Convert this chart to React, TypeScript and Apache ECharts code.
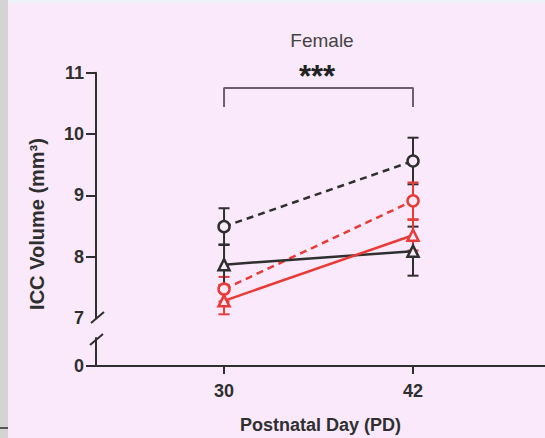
import React, { useEffect, useRef } from "react";
import * as echarts from "echarts";

// ---- data ----
const days = [30, 42];
const xTickLabels = [30, 42];
const yTicksUpper = [7, 8, 9, 10, 11];
const yTicksLower = [0];

const blackCircleMean = [8.49, 9.56];
const blackCircleErr = [0.3, 0.38];
const redCircleMean = [7.47, 8.91];
const redCircleErr = [0.2, 0.3];
const blackTriangleMean = [7.87, 8.09];
const blackTriangleErr = [0.33, 0.4];
const redTriangleMean = [7.28, 8.35];
const redTriangleErr = [0.22, 0.25];

const bracketX = [30, 30, 42, 42];
const bracketY = [10.44, 10.75, 10.75, 10.44];

const BG = "#f9e9fa";
const DARK = "#2f2f2f";
const RED = "#ea3a36";
const FONT = "'Liberation Sans', Arial, Helvetica, sans-serif";

function pts(mean: number[]) {
  return days.map((d, i) => [d, mean[i]]);
}
function errs(mean: number[], err: number[]) {
  return days.map((d, i) => [d, mean[i] - err[i], mean[i] + err[i]]);
}

function errSeries(name: string, mean: number[], err: number[], color: string) {
  return {
    name,
    type: "custom",
    xAxisIndex: 0,
    yAxisIndex: 0,
    z: 2,
    data: errs(mean, err),
    renderItem: (params: any, api: any) => {
      const x = api.value(0);
      const top = api.coord([x, api.value(2)]);
      const bot = api.coord([x, api.value(1)]);
      const hw = 5.5;
      const style = { stroke: color, lineWidth: 2 };
      return {
        type: "group",
        children: [
          { type: "line", shape: { x1: top[0], y1: top[1], x2: bot[0], y2: bot[1] }, style },
          { type: "line", shape: { x1: top[0] - hw, y1: top[1], x2: top[0] + hw, y2: top[1] }, style },
          { type: "line", shape: { x1: bot[0] - hw, y1: bot[1], x2: bot[0] + hw, y2: bot[1] }, style },
        ],
      };
    },
  };
}

function lineSeries(name: string, mean: number[], color: string, symbol: string, dashed: boolean) {
  return {
    name,
    type: "line",
    xAxisIndex: 0,
    yAxisIndex: 0,
    z: 3,
    data: pts(mean),
    symbol,
    symbolSize: 11,
    lineStyle: { color, width: 2.5, type: dashed ? [7, 5] : "solid" },
    itemStyle: { color: BG, borderColor: color, borderWidth: 2.5 },
  };
}

export default function App() {
  const ref = useRef<HTMLDivElement>(null);
  useEffect(() => {
    if (!ref.current) return;
    const chart = echarts.init(ref.current, undefined, { renderer: "svg" });
    const axisLbl = { fontFamily: FONT, fontSize: 18, fontWeight: "bold", color: DARK };
    chart.setOption({
      animation: false,
      backgroundColor: BG,
      title: {
        text: "Female",
        left: 317,
        top: 26,
        textAlign: "center",
        textStyle: { fontFamily: FONT, fontSize: 19, fontWeight: "normal", color: "#444" },
      },
      grid: [
        { left: 96, top: 72.7, width: 449, height: 245.3, outerBoundsMode: "none", containLabel: false },
        { left: 96, top: 338, width: 449, height: 28, outerBoundsMode: "none", containLabel: false },
      ],
      xAxis: [
        {
          gridIndex: 0,
          type: "value",
          min: 21.87,
          max: 50.38,
          show: false,
          splitLine: { show: false },
        },
        {
          gridIndex: 1,
          type: "value",
          min: 21.87,
          max: 50.38,
          axisLine: { show: true, lineStyle: { color: DARK, width: 2 } },
          axisTick: { show: true, customValues: xTickLabels, length: 8, lineStyle: { color: DARK, width: 2 } },
          axisLabel: { ...axisLbl, customValues: xTickLabels, margin: 16 },
          splitLine: { show: false },
          name: "Postnatal Day (PD)",
          nameLocation: "middle",
          nameGap: 50,
          nameTextStyle: { fontFamily: FONT, fontSize: 18, fontWeight: "bold", color: DARK },
        },
      ],
      yAxis: [
        {
          gridIndex: 0,
          type: "value",
          min: 7,
          max: 11,
          axisLine: { show: true, lineStyle: { color: DARK, width: 2 } },
          axisTick: { show: true, customValues: [8, 9, 10, 11], length: 10, lineStyle: { color: DARK, width: 2 } },
          axisLabel: { ...axisLbl, customValues: yTicksUpper, margin: 12 },
          splitLine: { show: false },
        },
        {
          gridIndex: 1,
          type: "value",
          min: 0,
          max: 1,
          axisLine: { show: true, lineStyle: { color: DARK, width: 2 } },
          axisTick: { show: true, customValues: yTicksLower, length: 10, lineStyle: { color: DARK, width: 2 } },
          axisLabel: { ...axisLbl, customValues: yTicksLower, margin: 12 },
          splitLine: { show: false },
        },
      ],
      graphic: [
        { type: "rect", shape: { x: 0, y: 0, width: 8, height: 438 }, style: { fill: "#d4d4d4" }, silent: true },
        { type: "rect", shape: { x: 8, y: 0, width: 537, height: 3 }, style: { fill: "#eef2f9" }, silent: true },
        { type: "rect", shape: { x: 0, y: 427, width: 8, height: 2 }, style: { fill: "#555" }, silent: true },
        { type: "line", shape: { x1: 91, y1: 323, x2: 104, y2: 312 }, style: { stroke: DARK, lineWidth: 2 } },
        { type: "line", shape: { x1: 90, y1: 345, x2: 103, y2: 334 }, style: { stroke: DARK, lineWidth: 2 } },
        {
          type: "text",
          x: 37,
          y: 224,
          rotation: Math.PI / 2,
          style: {
            text: "ICC Volume (mm³)",
            fontFamily: FONT,
            fontSize: 20,
            fontWeight: "bold",
            fill: DARK,
            align: "center",
            verticalAlign: "middle",
          },
        },
        {
          type: "text",
          x: 317,
          y: 61,
          style: {
            text: "***",
            fontFamily: FONT,
            fontSize: 31,
            fontWeight: "bold",
            fill: "#222",
            align: "center",
            verticalAlign: "top",
          },
        },
      ],
      series: [
        {
          name: "Significance bracket",
          type: "line",
          xAxisIndex: 0,
          yAxisIndex: 0,
          data: bracketX.map((x, i) => [x, bracketY[i]]),
          symbol: "none",
          lineStyle: { color: "#6b5d72", width: 2 },
          z: 1,
        },
        errSeries("Black ○ error", blackCircleMean, blackCircleErr, DARK),
        errSeries("Red ○ error", redCircleMean, redCircleErr, RED),
        errSeries("Black △ error", blackTriangleMean, blackTriangleErr, DARK),
        errSeries("Red △ error", redTriangleMean, redTriangleErr, RED),
        lineSeries("Black ○ (dashed)", blackCircleMean, DARK, "circle", true),
        lineSeries("Red ○ (dashed)", redCircleMean, RED, "circle", true),
        lineSeries("Black △ (solid)", blackTriangleMean, DARK, "triangle", false),
        lineSeries("Red △ (solid)", redTriangleMean, RED, "triangle", false),
      ],
    });
    return () => chart.dispose();
  }, []);
  return (
    <div
      ref={ref}
      style={{ position: "absolute", left: 0, top: 0, width: 545, height: 438 }}
    />
  );
}
